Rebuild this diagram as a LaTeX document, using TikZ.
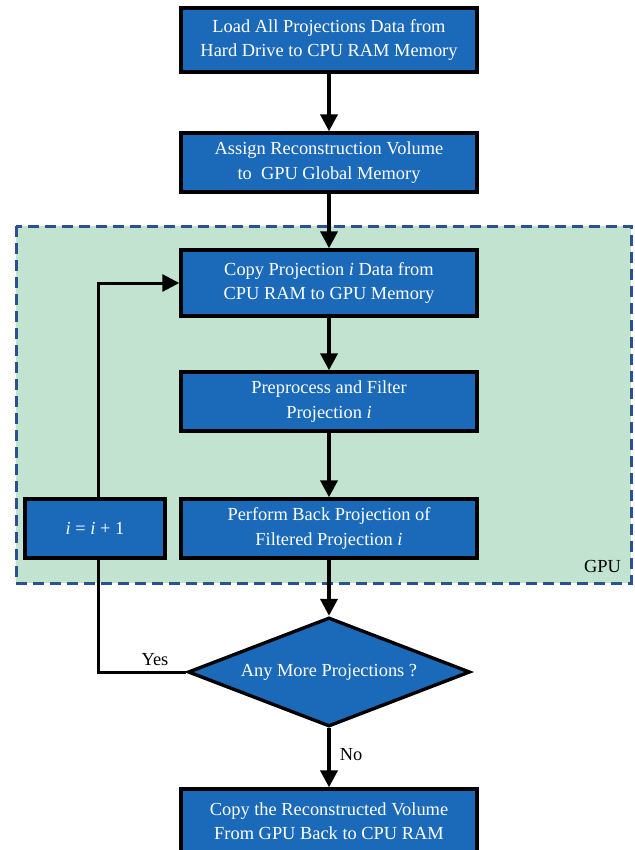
\documentclass[tikz,border=0pt]{standalone}
\usepackage{fontspec}
\setmainfont{Liberation Serif}
\usetikzlibrary{shapes.geometric,arrows.meta}
\definecolor{boxblue}{RGB}{27,106,186}
\definecolor{gpugreen}{RGB}{193,227,207}
\definecolor{gpuborder}{RGB}{42,82,145}
\tikzset{
  x=1pt, y=-1pt,
  procbox/.style={draw=black, line width=3.4pt, fill=boxblue, text=white, rectangle,
    minimum width=296pt, minimum height=59pt, inner sep=0pt, align=center,
    font=\fontsize{18.4}{24.5}\selectfont},
  decbox/.style={draw=black, line width=3.4pt, fill=boxblue, text=white, diamond, aspect=2.59,
    minimum width=282pt, minimum height=109pt, inner sep=0pt, align=center,
    font=\fontsize{18.4}{24.5}\selectfont},
  flow/.style={line width=3.8pt, -{Triangle[length=17pt,width=17pt]}},
  looparrow/.style={line width=3pt, -{Triangle[length=17pt,width=17pt]}},
  lbl/.style={font=\fontsize{18.4}{20}\selectfont, inner sep=0pt}
}
\begin{document}
\begin{tikzpicture}
\useasboundingbox (0,0) rectangle (634,850);
\fill[white] (0,0) rectangle (634,850);
% GPU region
\draw[gpuborder, fill=gpugreen, line width=3pt, dash pattern=on 11pt off 6pt] (16,226) rectangle (631,583);
\node[lbl, anchor=east] (gpu) at (621,566) {GPU};
% boxes
\node[procbox, minimum height=64pt] (b1) at (329,40) {Load All Projections Data from\\Hard Drive to CPU RAM Memory};
\node[procbox] (b2) at (329,162.5) {Assign Reconstruction Volume\\to\ \ GPU Global Memory};
\node[procbox, minimum height=66pt] (b3) at (329,283) {Copy Projection \textit{i} Data from\\CPU RAM to GPU Memory};
\node[procbox] (b4) at (329,401.5) {Preprocess and Filter\\Projection \textit{i}};
\node[procbox] (b5) at (329,528.5) {Perform Back Projection of\\Filtered Projection \textit{i}};
\node[decbox] (d) at (329,672) {Any More Projections ?};
\node[procbox, minimum height=64pt] (b6) at (329,821) {Copy the Reconstructed Volume\\From GPU Back to CPU RAM};
% connectors
\draw[flow] (b1) -- (b2);
\draw[flow] (b2) -- (b3);
\draw[flow] (b3) -- (b4);
\draw[flow] (b4) -- (b5);
\draw[flow] (b5.south) -- (d.north);
\draw[flow] (d.south) -- (b6.north);
\coordinate (cl) at (98,672);
\coordinate (cu) at (98,283);
\draw[looparrow] (d.west) -- (cl) -- (cu) -- (b3.west);
\node[procbox, minimum width=140pt] (inc) at (95,528.5) {\textit{i} = \textit{i} + 1};
\node[lbl] (yes) at (155,660) {Yes};
\node[lbl] (no) at (351,755) {No};
\end{tikzpicture}
\end{document}
